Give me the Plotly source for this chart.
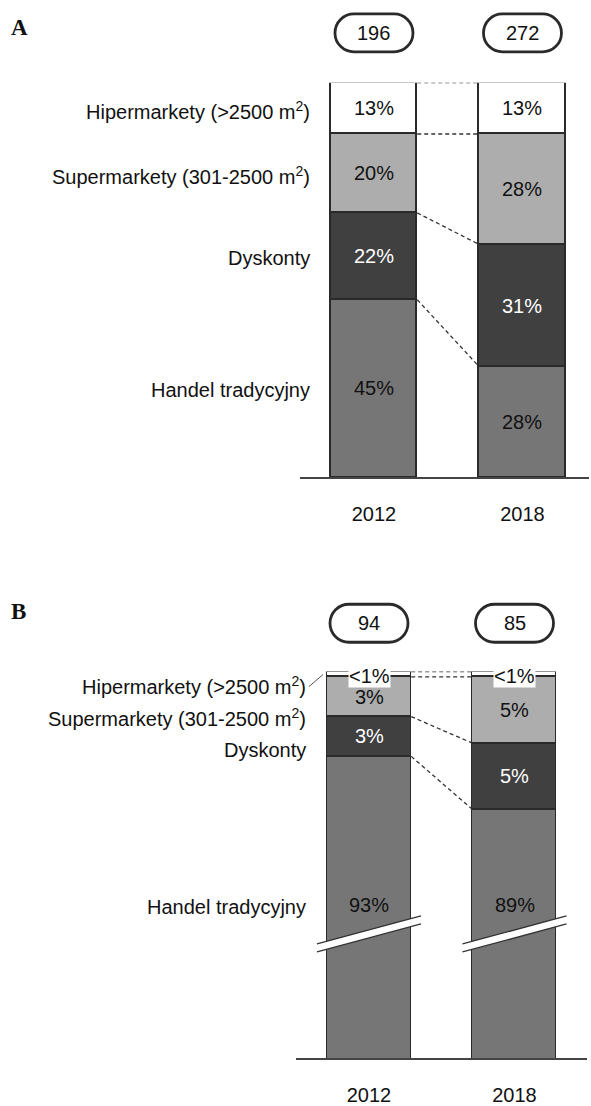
import plotly.graph_objects as go

# ---------------- data ----------------
years = ["2012", "2018"]
categories = ["Hipermarkety (>2500 m<sup>2</sup>)",
              "Supermarkety (301-2500 m<sup>2</sup>)",
              "Dyskonty",
              "Handel tradycyjny"]

# Panel A
a_totals = [196, 272]
a_hyper = [13, 13]
a_super = [20, 28]
a_disc = [22, 31]
a_trad = [45, 28]

# Panel B
b_totals = [94, 85]
b_hyper = [0.4, 0.4]          # shown as "<1%"
b_hyper_labels = ["<1%", "<1%"]
b_super = [3, 5]
b_disc = [3, 5]
b_trad = [93, 89]

# ---------------- style ----------------
FONT = "Liberation Sans, Arial, sans-serif"
COL = {"hyper": "#ffffff", "super": "#adadad", "disc": "#404040", "trad": "#767676"}
TXT = {"hyper": "#111111", "super": "#111111", "disc": "#ffffff", "trad": "#111111"}
OUTLINE = "#2a2a2a"
W, H = 591, 1106
BW_A = 0.5825
BW_B = 0.58
xs = [0, 1]
DASH = "4px,3px"

fig = go.Figure()

def add_stack(series, keys, xa, ya, bw):
    for vals, key in zip(series, keys):
        fig.add_trace(go.Bar(x=xs, y=vals, width=bw, xaxis=xa, yaxis=ya,
                             marker=dict(color=COL[key], line=dict(color=OUTLINE, width=1.3)),
                             hoverinfo="skip", showlegend=False))

keys = ["hyper", "super", "disc", "trad"]
add_stack([a_hyper, a_super, a_disc, a_trad], keys, "x", "y", BW_A)
add_stack([b_hyper, b_super, b_disc, b_trad], keys, "x2", "y2", BW_B)

annotations = []
shapes = []

def pct(v):
    return f"{v:g}%"

# segment labels panel A
for i in range(2):
    cum = 0
    for vals, key in zip([a_hyper, a_super, a_disc, a_trad], keys):
        v = vals[i]
        annotations.append(dict(x=xs[i], y=cum + v / 2, xref="x", yref="y", text=pct(v),
                                xanchor="center", yanchor="middle", showarrow=False,
                                font=dict(family=FONT, size=20, color=TXT[key])))
        cum += v

# segment labels panel B
B_TRAD_LABEL_Y = 17.6
for i in range(2):
    annotations.append(dict(x=xs[i], y=0.3, xref="x2", yref="y2", text=b_hyper_labels[i],
                            xanchor="center", yanchor="middle",
                            showarrow=False, bgcolor="#ffffff", borderpad=0,
                            font=dict(family=FONT, size=20, color=TXT["hyper"])))
    cum = b_hyper[i]
    for vals, key in zip([b_super, b_disc], ["super", "disc"]):
        v = vals[i]
        annotations.append(dict(x=xs[i], y=cum + v / 2, xref="x2", yref="y2", text=pct(v),
                                xanchor="center", yanchor="middle", showarrow=False,
                                font=dict(family=FONT, size=20, color=TXT[key])))
        cum += v
    annotations.append(dict(x=xs[i], y=B_TRAD_LABEL_Y, xref="x2", yref="y2", text=pct(b_trad[i]),
                            xanchor="center", yanchor="middle", showarrow=False,
                            font=dict(family=FONT, size=20, color=TXT["trad"])))

# category labels panel A (aligned with 2012 segments)
cum = 0
for vals, cat in zip([a_hyper, a_super, a_disc, a_trad], categories):
    annotations.append(dict(x=312 / W, y=cum + vals[0] / 2, xref="paper", yref="y", text=cat,
                            xanchor="right", yanchor="middle", yshift=-2, showarrow=False,
                            font=dict(family=FONT, size=20, color="#111111")))
    cum += vals[0]

# category labels panel B
for cat, ypx in zip(categories, [688, 720, 753, 910]):
    annotations.append(dict(x=308 / W, y=1 - ypx / H, xref="paper", yref="paper", text=cat,
                            xanchor="right", yanchor="middle", showarrow=False,
                            font=dict(family=FONT, size=20, color="#111111")))
shapes.append(dict(type="line", xref="paper", yref="paper", x0=309 / W, y0=1 - 689 / H,
                   x1=323 / W, y1=1 - 677 / H, line=dict(color="#555555", width=1)))

# totals (pills)
def pill(xa, ya, xval, yval, total):
    r, half = 19, 20
    k = 0.5523 * r
    p = (f"M {-half},{-r} L {half},{-r} "
         f"C {half + k},{-r} {half + r},{-k} {half + r},0 "
         f"C {half + r},{k} {half + k},{r} {half},{r} "
         f"L {-half},{r} "
         f"C {-half - k},{r} {-half - r},{k} {-half - r},0 "
         f"C {-half - r},{-k} {-half - k},{-r} {-half},{-r} Z")
    shapes.append(dict(type="path", xref=xa, yref=ya, xsizemode="pixel", ysizemode="pixel",
                       xanchor=xval, yanchor=yval, path=p,
                       line=dict(color="#2a2a2a", width=2.8), fillcolor="rgba(0,0,0,0)"))
    annotations.append(dict(x=xval, y=yval, xref=xa, yref=ya, text=str(total), showarrow=False,
                            xanchor="center", yanchor="middle",
                            font=dict(family=FONT, size=20, color="#111111")))

for i in range(2):
    pill("x", "paper", xs[i], 1 - 33 / H, a_totals[i])
    pill("x2", "paper", xs[i], 1 - 625.5 / H, b_totals[i])

# dashed connectors
def connectors(series, xa, ya, bw):
    c0, c1 = [0], [0]
    for vals in series:
        c0.append(c0[-1] + vals[0])
        c1.append(c1[-1] + vals[1])
    for y0, y1 in zip(c0[:-1], c1[:-1]):
        shapes.append(dict(type="line", xref=xa, yref=ya, x0=xs[0] + bw / 2, x1=xs[1] - bw / 2,
                           y0=y0, y1=y1, line=dict(color="#333333", width=1.3, dash=DASH)))

connectors([a_hyper, a_super, a_disc, a_trad], "x", "y", BW_A)
connectors([b_hyper, b_super, b_disc, b_trad], "x2", "y2", BW_B)

# break marks panel B
BREAK_Y = 19.8
for i in range(2):
    half_len, rise, th = 52, 14, 4
    band = (f"M {-half_len},{-rise - th} L {half_len},{rise - th} "
            f"L {half_len},{rise + th} L {-half_len},{-rise + th} Z")
    shapes.append(dict(type="path", xref="x2", yref="y2", xsizemode="pixel", ysizemode="pixel",
                       xanchor=xs[i], yanchor=BREAK_Y, path=band,
                       fillcolor="#ffffff", line=dict(width=0)))
    for off in (-th, th):
        shapes.append(dict(type="path", xref="x2", yref="y2", xsizemode="pixel", ysizemode="pixel",
                           xanchor=xs[i], yanchor=BREAK_Y,
                           path=f"M {-half_len},{-rise + off} L {half_len},{rise + off}",
                           line=dict(color="#333333", width=1.3)))

# panel letters
for letter, ypx in (("A", 28), ("B", 614)):
    annotations.append(dict(x=9 / W, y=1 - ypx / H, xref="paper", yref="paper", text=f"<b>{letter}</b>",
                            xanchor="left", yanchor="middle", showarrow=False,
                            font=dict(family="Liberation Serif, Times New Roman, serif", size=23,
                                      color="#111111")))

axis_x = dict(showgrid=False, zeroline=False, showline=True, linecolor="#444444", linewidth=1.5,
              ticks="", tickvals=xs, ticktext=years, ticklabelstandoff=18,
              tickfont=dict(family=FONT, size=20, color="#111111"), fixedrange=True)
axis_y = dict(visible=False, showgrid=False, zeroline=False, fixedrange=True)

fig.update_layout(
    width=W, height=H, margin=dict(l=0, r=0, t=0, b=0),
    paper_bgcolor="#ffffff", plot_bgcolor="#ffffff",
    barmode="stack", bargap=0, showlegend=False,
    xaxis=dict(axis_x, domain=[299.75 / W, 589.3 / W], range=[-0.5, 1.45], anchor="y"),
    yaxis=dict(axis_y, domain=[1 - 479 / H, 1 - 83 / H], range=[100, 0], anchor="x"),
    xaxis2=dict(axis_x, domain=[296.25 / W, 587.25 / W], range=[-0.5, 1.5], anchor="y2"),
    yaxis2=dict(axis_y, domain=[1 - 1062 / H, 1 - 674 / H], range=[388 / 13.3, 0], anchor="x2"),
    annotations=annotations, shapes=shapes,
)

fig.write_html("out.html", config={"displayModeBar": False},
               post_script="document.body.style.margin='0px';")
